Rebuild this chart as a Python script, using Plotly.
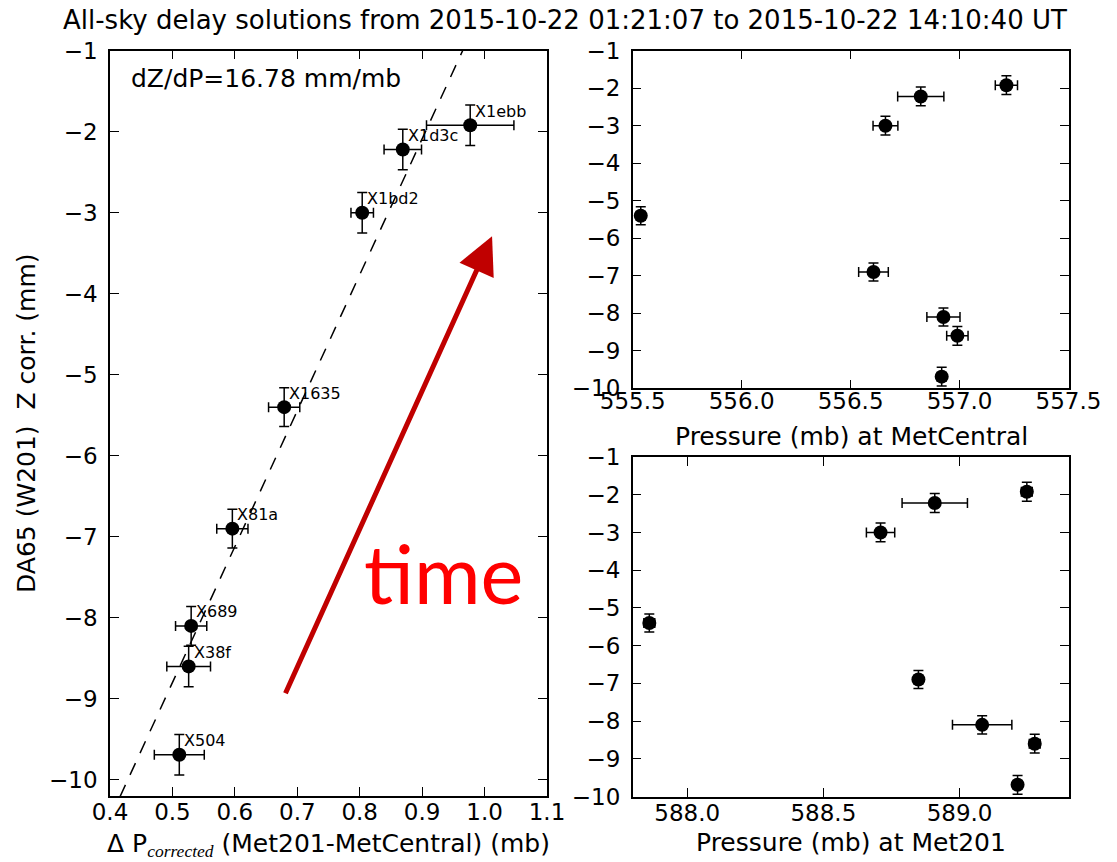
import plotly.graph_objects as go

# ---------------- data ----------------
names = ["X504", "X38f", "X689", "X81a", "X1635", "X1bd2", "X1d3c", "X1ebb"]
dp_corr = [0.511, 0.526, 0.530, 0.596, 0.679, 0.804, 0.869, 0.977]
dp_err = [0.040, 0.035, 0.025, 0.025, 0.025, 0.018, 0.030, 0.070]
z_corr = [-9.69, -8.60, -8.10, -6.90, -5.40, -3.00, -2.22, -1.92]
z_err = [0.25, 0.25, 0.24, 0.24, 0.24, 0.25, 0.25, 0.25]
p_metcentral = [556.918, 556.990, 556.926, 556.605, 555.537, 556.660, 556.822, 557.215]
p_metcentral_err = [0.020, 0.049, 0.076, 0.068, 0.020, 0.057, 0.106, 0.051]
p_met201 = [589.213, 589.276, 589.083, 588.849, 587.861, 588.710, 588.909, 589.247]
p_met201_err = [0.015, 0.020, 0.109, 0.015, 0.020, 0.052, 0.120, 0.020]
fit_slope = 16.78
fit_intercept = -17.19

y_ticks = [-1, -2, -3, -4, -5, -6, -7, -8, -9, -10]
y_ticklabels = ["\u2212" + str(abs(v)) for v in y_ticks]
left_x_ticks = [0.4, 0.5, 0.6, 0.7, 0.8, 0.9, 1.0, 1.1]
tr_x_ticks = [555.5, 556.0, 556.5, 557.0, 557.5]
br_x_ticks = [588.0, 588.5, 589.0]

left_x_range = [0.4, 1.1]
left_y_range = [-10.2, -1]
tr_x_range = [555.5, 557.5]
br_x_range = [587.8, 589.4]
right_y_range = [-10, -1]

title_text = "All-sky delay solutions from 2015-10-22 01:21:07 to 2015-10-22 14:10:40 UT"
left_xlabel = ("\u0394 P<sub><span style=\"font-family:Liberation Serif;font-style:italic\">"
               "corrected</span></sub> (Met201-MetCentral) (mb)")
left_ylabel = "DA65 (W201)\u00a0 Z corr. (mm)"
tr_xlabel = "Pressure (mb) at MetCentral"
br_xlabel = "Pressure (mb) at Met201"

FONT = "DejaVu Sans"
W, H = 1117, 862

fig = go.Figure()

err_style = dict(type="data", thickness=1.5, width=5, color="black")
mk = dict(color="black", size=14)

# fit line (dZ/dP)
fit_y = [fit_slope * v + fit_intercept for v in left_x_range]
fig.add_trace(go.Scatter(x=left_x_range, y=fit_y, mode="lines",
                         line=dict(color="black", width=1.5, dash="13px,11px"),
                         xaxis="x", yaxis="y", showlegend=False, hoverinfo="skip"))

fig.add_trace(go.Scatter(x=dp_corr, y=z_corr, mode="markers", marker=mk,
                         error_x=dict(array=dp_err, **err_style),
                         error_y=dict(array=z_err, **err_style),
                         xaxis="x", yaxis="y", showlegend=False))
fig.add_trace(go.Scatter(x=p_metcentral, y=z_corr, mode="markers", marker=mk,
                         error_x=dict(array=p_metcentral_err, **err_style),
                         error_y=dict(array=z_err, **err_style),
                         xaxis="x2", yaxis="y2", showlegend=False))
fig.add_trace(go.Scatter(x=p_met201, y=z_corr, mode="markers", marker=mk,
                         error_x=dict(array=p_met201_err, **err_style),
                         error_y=dict(array=z_err, **err_style),
                         xaxis="x3", yaxis="y3", showlegend=False))


def ax_style(**kw):
    d = dict(showline=True, linecolor="black", linewidth=1.5, mirror="allticks",
             ticks="inside", ticklen=9, tickwidth=1.2, tickcolor="black",
             showgrid=False, zeroline=False, automargin=False,
             tickfont=dict(family=FONT, size=23, color="black"))
    d.update(kw)
    return d


L_dom_x = [110 / W, 547 / W]
R_dom_x = [632.7 / W, 1068.5 / W]
L_dom_y = [1 - 796 / H, 1 - 50.7 / H]
TR_dom_y = [1 - 388.3 / H, 1 - 50.7 / H]
BR_dom_y = [1 - 796.5 / H, 1 - 457 / H]

fig.update_layout(
    width=W, height=H,
    margin=dict(l=0, r=0, t=0, b=0),
    paper_bgcolor="white", plot_bgcolor="white",
    font=dict(family=FONT, color="black"),
    xaxis=ax_style(domain=L_dom_x, anchor="y", range=left_x_range,
                   tickvals=left_x_ticks, tickformat=".1f", ticklabelstandoff=-5),
    yaxis=ax_style(domain=L_dom_y, anchor="x", range=left_y_range,
                   tickvals=y_ticks, ticktext=y_ticklabels, ticklabelstandoff=6),
    xaxis2=ax_style(domain=R_dom_x, anchor="y2", range=tr_x_range,
                    tickvals=tr_x_ticks, tickformat=".1f", ticklabelstandoff=-9),
    yaxis2=ax_style(domain=TR_dom_y, anchor="x2", range=right_y_range,
                    tickvals=y_ticks, ticktext=y_ticklabels, ticklabelstandoff=6),
    xaxis3=ax_style(domain=R_dom_x, anchor="y3", range=br_x_range,
                    tickvals=br_x_ticks, tickformat=".1f", ticklabelstandoff=-5),
    yaxis3=ax_style(domain=BR_dom_y, anchor="x3", range=right_y_range,
                    tickvals=y_ticks, ticktext=y_ticklabels, ticklabelstandoff=6),
)

annotations = []


def paper_text(text, px, py, size=25, xanchor="center", angle=0, family=FONT, color="black"):
    return dict(text=text, x=px / W, y=1 - py / H, xref="paper", yref="paper",
                xanchor=xanchor, yanchor="middle", showarrow=False, borderpad=0,
                textangle=angle, font=dict(family=family, size=size, color=color))


annotations.append(paper_text(title_text, 565, 20, size=26))
annotations.append(paper_text("dZ/dP=%.2f mm/mb" % fit_slope, 130, 78, size=25, xanchor="left"))
annotations.append(paper_text(left_xlabel, 328, 845))
annotations.append(paper_text(left_ylabel, 27, 423, angle=-90))
annotations.append(paper_text(tr_xlabel, 851, 436))
annotations.append(paper_text(br_xlabel, 851, 842))

for n, xv, yv in zip(names, dp_corr, z_corr):
    annotations.append(dict(text=n, x=xv, y=yv, xref="x", yref="y", xanchor="left",
                            yanchor="middle", xshift=4, yshift=14, showarrow=False,
                            borderpad=0, font=dict(family=FONT, size=16, color="black")))
# red "time" arrow and label
annotations.append(dict(text="", x=1.012, y=-3.29, ax=0.680, ay=-8.95,
                        xref="x", yref="y", axref="x", ayref="y", showarrow=True,
                        arrowhead=2, arrowsize=1.5, arrowwidth=5, arrowcolor="#C00000",
                        standoff=0))
annotations.append(dict(text="time", x=0.935, y=-7.44, xref="x", yref="y",
                        xanchor="center", yanchor="middle", showarrow=False,
                        font=dict(family="Lato", size=81, color="#FF0000")))
fig.update_layout(annotations=annotations)

fig.write_html("out.html", config={"displayModeBar": False},
               post_script="document.body.style.margin='0';document.body.style.overflow='hidden';")
